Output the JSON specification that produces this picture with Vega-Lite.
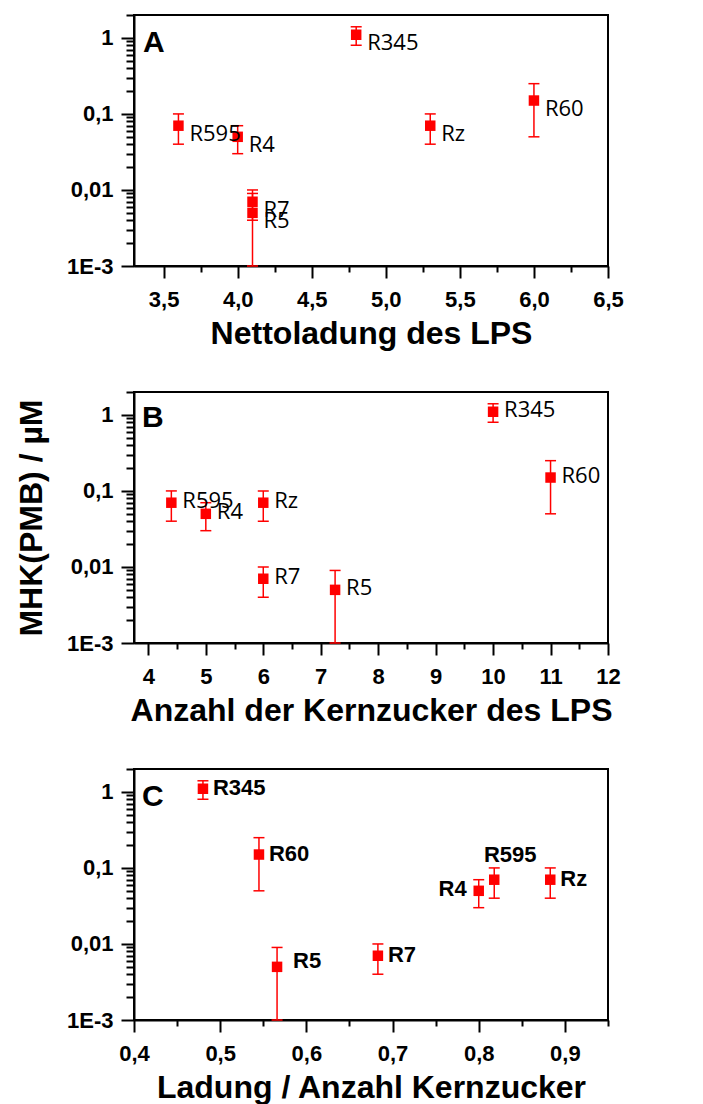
{
  "$schema": "https://vega.github.io/schema/vega-lite/v6.json",
  "padding": {"left": 14, "top": 3, "right": 0, "bottom": 0},
  "bounds": "flush",
  "spacing": 126,
  "background": "white",
  "datasets": {
    "pts": [
      {"name": "R595", "charge": 3.6, "sugars": 4.4, "ratio": 0.818, "mhk": 0.07, "lo": 0.04, "hi": 0.1},
      {"name": "R4", "charge": 4.0, "sugars": 5, "ratio": 0.8, "mhk": 0.05, "lo": 0.03, "hi": 0.07},
      {"name": "R7", "charge": 4.1, "sugars": 6, "ratio": 0.683, "mhk": 0.007, "lo": 0.004, "hi": 0.01},
      {"name": "R5", "charge": 4.1, "sugars": 7.25, "ratio": 0.566, "mhk": 0.005, "lo": 0.001, "hi": 0.009},
      {"name": "R345", "charge": 4.8, "sugars": 10, "ratio": 0.48, "mhk": 1.1, "lo": 0.8, "hi": 1.4},
      {"name": "Rz", "charge": 5.3, "sugars": 6, "ratio": 0.883, "mhk": 0.07, "lo": 0.04, "hi": 0.1},
      {"name": "R60", "charge": 6.0, "sugars": 11, "ratio": 0.545, "mhk": 0.15, "lo": 0.05, "hi": 0.25}
    ],
    "panels": [{"panel": "A"}]
  },
  "config": {
    "font": "Liberation Sans",
    "view": {"stroke": "black", "strokeWidth": 2},
    "axis": {
      "domainColor": "black", "domainWidth": 2, "tickColor": "black", "tickWidth": 2,
      "labelFont": "Liberation Sans", "labelFontWeight": "bold", "labelFontSize": 22, "labelColor": "black",
      "titleFont": "Liberation Sans", "titleFontWeight": "bold", "titleFontSize": 32, "titleColor": "black",
      "grid": false, "labelFlush": false, "labelOverlap": false
    },
    "axisY": {
      "values": [0.001, 0.002, 0.003, 0.004, 0.005, 0.006, 0.007, 0.008, 0.009, 0.01, 0.02, 0.03, 0.04, 0.05, 0.06, 0.07, 0.08, 0.09, 0.1, 0.2, 0.3, 0.4, 0.5, 0.6, 0.7, 0.8, 0.9, 1],
      "labelExpr": "datum.value == 1 ? '1' : datum.value == 0.1 ? '0,1' : datum.value == 0.01 ? '0,01' : datum.value == 0.001 ? '1E-3' : ''",
      "tickSize": {"condition": {"test": "datum.value == 1 || datum.value == 0.1 || datum.value == 0.01 || datum.value == 0.001", "value": 13}, "value": 8},
      "labelPadding": 8
    }
  },
  "vconcat": [
    {
      "width": 474, "height": 251,
      "data": {"name": "pts"},
      "encoding": {
        "x": {"field": "charge", "type": "quantitative", "scale": {"domain": [3.3, 6.5], "nice": false, "zero": false},
              "axis": {"values": [3.5, 3.75, 4, 4.25, 4.5, 4.75, 5, 5.25, 5.5, 5.75, 6, 6.25, 6.5],
                       "tickSize": {"condition": {"test": "abs(datum.value * 2 - round(datum.value * 2)) < 0.001", "value": 12}, "value": 6},
                       "labelPadding": 11,
                       "labelExpr": "abs(datum.value * 2 - round(datum.value * 2)) < 0.001 ? replace(format(datum.value, '.1f'), '.', ',') : ''",
                       "title": "Nettoladung des LPS", "titlePadding": 8}}
      },
      "layer": [
        {
          "mark": {"type": "rule", "color": "#ff0000", "strokeWidth": 1.5},
          "encoding": {
            "y": {"field": "lo", "type": "quantitative", "scale": {"type": "log", "domain": [0.001, 2], "nice": false}, "axis": {"title": null}},
            "y2": {"field": "hi"}
          }
        },
        {
          "mark": {"type": "tick", "orient": "horizontal", "color": "#ff0000", "size": 11, "thickness": 1.5, "opacity": 1},
          "encoding": {"y": {"field": "lo", "type": "quantitative"}}
        },
        {
          "mark": {"type": "tick", "orient": "horizontal", "color": "#ff0000", "size": 11, "thickness": 1.5, "opacity": 1},
          "encoding": {"y": {"field": "hi", "type": "quantitative"}}
        },
        {
          "mark": {"type": "square", "color": "#ff0000", "filled": true, "opacity": 1, "size": 110},
          "encoding": {"y": {"field": "mhk", "type": "quantitative"}}
        },
        {
          "mark": {"type": "text", "align": "left", "baseline": "middle", "dx": 11, "dy": 8, "font": "Open Sans", "fontSize": 22, "color": "black"},
          "encoding": {"y": {"field": "mhk", "type": "quantitative"}, "text": {"field": "name"}}
        },
        {
          "transform": [{"filter": "datum.name == 'R345'"}],
          "mark": {"type": "text", "align": "left", "baseline": "alphabetic", "dx": 9, "dy": 37, "font": "Liberation Sans", "fontWeight": "bold", "fontSize": 30, "color": "black"},
          "encoding": {
            "x": {"datum": 3.3},
            "y": {"datum": 2},
            "text": {"value": "A"}
          }
        }
      ]
    },
    {
      "width": 474, "height": 251,
      "data": {"name": "pts"},
      "encoding": {
        "x": {"field": "sugars", "type": "quantitative", "scale": {"domain": [3.75, 12], "nice": false, "zero": false},
              "axis": {"values": [4, 4.5, 5, 5.5, 6, 6.5, 7, 7.5, 8, 8.5, 9, 9.5, 10, 10.5, 11, 11.5, 12],
                       "tickSize": {"condition": {"test": "abs(datum.value - round(datum.value)) < 0.001", "value": 12}, "value": 6},
                       "labelPadding": 11,
                       "labelExpr": "abs(datum.value - round(datum.value)) < 0.001 ? format(datum.value, 'd') : ''",
                       "title": "Anzahl der Kernzucker des LPS", "titlePadding": 8}}
      },
      "layer": [
        {
          "mark": {"type": "rule", "color": "#ff0000", "strokeWidth": 1.5},
          "encoding": {
            "y": {"field": "lo", "type": "quantitative", "scale": {"type": "log", "domain": [0.001, 2], "nice": false},
                  "axis": {"title": "MHK(PMB) / µM", "titlePadding": 18}},
            "y2": {"field": "hi"}
          }
        },
        {
          "mark": {"type": "tick", "orient": "horizontal", "color": "#ff0000", "size": 11, "thickness": 1.5, "opacity": 1},
          "encoding": {"y": {"field": "lo", "type": "quantitative"}}
        },
        {
          "mark": {"type": "tick", "orient": "horizontal", "color": "#ff0000", "size": 11, "thickness": 1.5, "opacity": 1},
          "encoding": {"y": {"field": "hi", "type": "quantitative"}}
        },
        {
          "mark": {"type": "square", "color": "#ff0000", "filled": true, "opacity": 1, "size": 110},
          "encoding": {"y": {"field": "mhk", "type": "quantitative"}}
        },
        {
          "mark": {"type": "text", "align": "left", "baseline": "middle", "dx": 11, "dy": -2, "font": "Open Sans", "fontSize": 22, "color": "black"},
          "encoding": {"y": {"field": "mhk", "type": "quantitative"}, "text": {"field": "name"}}
        },
        {
          "transform": [{"filter": "datum.name == 'R345'"}],
          "mark": {"type": "text", "align": "left", "baseline": "alphabetic", "dx": 8, "dy": 35, "font": "Liberation Sans", "fontWeight": "bold", "fontSize": 30, "color": "black"},
          "encoding": {
            "x": {"datum": 3.75},
            "y": {"datum": 2},
            "text": {"value": "B"}
          }
        }
      ]
    },
    {
      "width": 474, "height": 251,
      "data": {"name": "pts"},
      "encoding": {
        "x": {"field": "ratio", "type": "quantitative", "scale": {"domain": [0.4, 0.95], "nice": false, "zero": false},
              "axis": {"values": [0.4, 0.45, 0.5, 0.55, 0.6, 0.65, 0.7, 0.75, 0.8, 0.85, 0.9, 0.95],
                       "tickSize": {"condition": {"test": "abs(datum.value * 10 - round(datum.value * 10)) < 0.001", "value": 12}, "value": 6},
                       "labelPadding": 11,
                       "labelExpr": "abs(datum.value * 10 - round(datum.value * 10)) < 0.001 ? replace(format(datum.value, '.1f'), '.', ',') : ''",
                       "title": "Ladung / Anzahl Kernzucker", "titlePadding": 8}}
      },
      "layer": [
        {
          "mark": {"type": "rule", "color": "#ff0000", "strokeWidth": 1.5},
          "encoding": {
            "y": {"field": "lo", "type": "quantitative", "scale": {"type": "log", "domain": [0.001, 2], "nice": false}, "axis": {"title": null}},
            "y2": {"field": "hi"}
          }
        },
        {
          "mark": {"type": "tick", "orient": "horizontal", "color": "#ff0000", "size": 11, "thickness": 1.5, "opacity": 1},
          "encoding": {"y": {"field": "lo", "type": "quantitative"}}
        },
        {
          "mark": {"type": "tick", "orient": "horizontal", "color": "#ff0000", "size": 11, "thickness": 1.5, "opacity": 1},
          "encoding": {"y": {"field": "hi", "type": "quantitative"}}
        },
        {
          "mark": {"type": "square", "color": "#ff0000", "filled": true, "opacity": 1, "size": 110},
          "encoding": {"y": {"field": "mhk", "type": "quantitative"}}
        },
        {
          "transform": [{"filter": "indexof(['R345','R60','R7','Rz'], datum.name) >= 0"}],
          "mark": {"type": "text", "align": "left", "baseline": "middle", "dx": 10, "dy": -1, "font": "Liberation Sans", "fontWeight": "bold", "fontSize": 22, "color": "black"},
          "encoding": {"y": {"field": "mhk", "type": "quantitative"}, "text": {"field": "name"}}
        },
        {
          "transform": [{"filter": "datum.name == 'R5'"}],
          "mark": {"type": "text", "align": "left", "baseline": "middle", "dx": 16, "dy": -6, "font": "Liberation Sans", "fontWeight": "bold", "fontSize": 22, "color": "black"},
          "encoding": {"y": {"field": "mhk", "type": "quantitative"}, "text": {"field": "name"}}
        },
        {
          "transform": [{"filter": "datum.name == 'R4'"}],
          "mark": {"type": "text", "align": "right", "baseline": "middle", "dx": -12, "dy": -2, "font": "Liberation Sans", "fontWeight": "bold", "fontSize": 22, "color": "black"},
          "encoding": {"y": {"field": "mhk", "type": "quantitative"}, "text": {"field": "name"}}
        },
        {
          "transform": [{"filter": "datum.name == 'R595'"}],
          "mark": {"type": "text", "align": "center", "baseline": "middle", "dx": 16, "dy": -25, "font": "Liberation Sans", "fontWeight": "bold", "fontSize": 22, "color": "black"},
          "encoding": {"y": {"field": "mhk", "type": "quantitative"}, "text": {"field": "name"}}
        },
        {
          "transform": [{"filter": "datum.name == 'R345'"}],
          "mark": {"type": "text", "align": "left", "baseline": "alphabetic", "dx": 8, "dy": 37, "font": "Liberation Sans", "fontWeight": "bold", "fontSize": 30, "color": "black"},
          "encoding": {
            "x": {"datum": 0.4},
            "y": {"datum": 2},
            "text": {"value": "C"}
          }
        }
      ]
    }
  ]
}
